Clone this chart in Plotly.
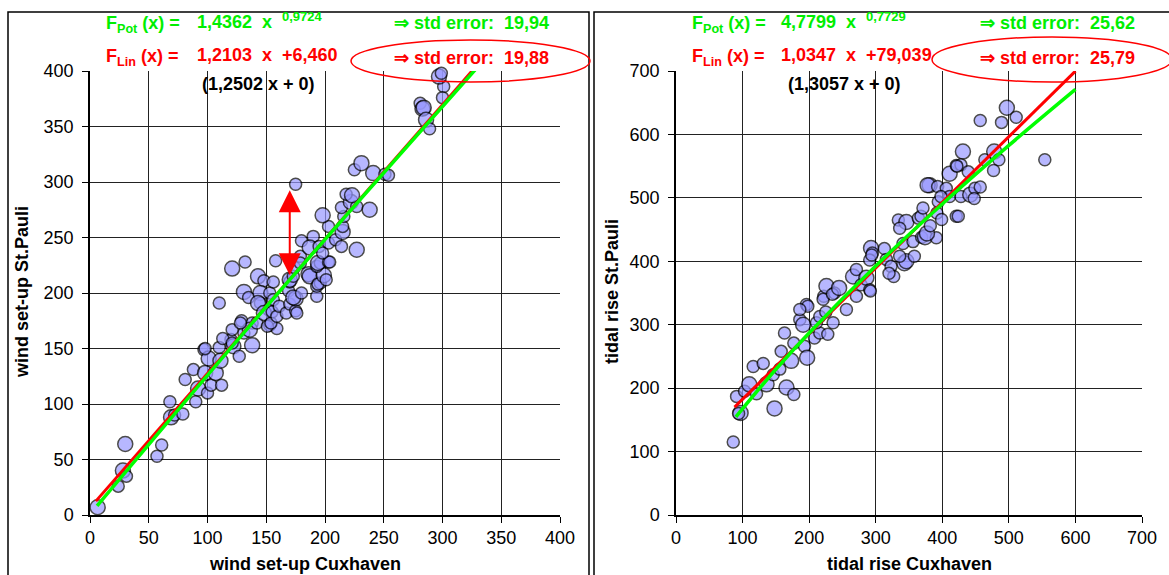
import plotly.graph_objects as go

W, H = 1169, 575

# ---------------- data: left panel (wind set-up) ----------------
wind_points = [
    (6.5, 7, 1), (24, 26, 0), (28, 40, 1), (31, 35, 0), (30, 64, 1), (57, 53, 0), (61, 63, 0),
    (68, 102, 0), (69, 88, 1), (72, 90, 0), (79, 91, 0), (81, 122, 0), (88, 131, 0), (90, 102, 0),
    (92, 114, 1), (97, 149, 0), (98, 128, 1), (100, 110, 0), (101, 141, 1), (103, 117, 0),
    (107, 128, 1), (110, 151, 0), (111, 139, 1), (112, 117, 0), (120, 158, 0), (122, 152, 1),
    (127, 143, 0), (138, 153, 1), (98, 150, 0), (113, 159, 0), (121, 155, 0), (131, 164, 0),
    (121, 167, 0), (129, 175, 0), (138, 173, 0), (136, 167, 1), (142, 173, 0), (128, 173, 0),
    (110, 191, 0), (121, 222, 1), (132, 228, 0), (131, 201, 1), (135, 196, 0), (143, 215, 1),
    (148, 211, 0), (145, 200, 1), (153, 200, 0), (145, 191, 0), (143, 191, 1), (152, 185, 0),
    (148, 182, 1), (153, 171, 0), (159, 168, 0), (151, 170, 0), (154, 173, 0), (155, 183, 0),
    (159, 179, 0), (156, 194, 0), (156, 210, 0), (158, 229, 0), (161, 188, 0), (167, 182, 0),
    (170, 190, 0), (175, 184, 0), (176, 182, 0), (169, 202, 0), (175, 195, 1), (173, 196, 1),
    (180, 200, 0), (170, 210, 0), (170, 212, 1), (173, 215, 0), (174, 223, 0), (179, 233, 0),
    (179, 227, 0), (175, 298, 0), (186, 217, 1), (187, 215, 1), (193, 197, 0), (193, 206, 0),
    (196, 209, 0), (194, 208, 0), (199, 216, 1), (201, 212, 0), (193, 224, 0), (196, 227, 0),
    (194, 227, 1), (203, 228, 0), (204, 228, 0), (180, 247, 0), (190, 251, 0), (187, 241, 1),
    (195, 242, 0), (203, 245, 0), (198, 236, 0), (209, 248, 0), (214, 242, 0), (215, 255, 1),
    (215, 260, 0), (203, 260, 0), (198, 270, 1), (216, 269, 0), (214, 277, 0), (222, 282, 1),
    (227, 278, 0), (238, 275, 1), (227, 239, 1), (218, 289, 0), (223, 288, 1), (225, 311, 0),
    (231, 317, 1), (241, 308, 1), (251, 307, 0), (254, 306, 0), (281, 371, 0), (283, 366, 1),
    (284, 367, 1), (286, 356, 1), (289, 348, 0), (301, 386, 0), (300, 376, 0), (297, 395, 1),
    (299, 398, 0),
]
wind_cux = [p[0] for p in wind_points]
wind_stp = [p[1] for p in wind_points]
wind_big = [p[2] for p in wind_points]

# fitted curves as drawn (left)
wind_lin_x = [5, 330]
wind_lin_y = [12.5, 405.9]
wind_pot_x = [6, 150, 330]
wind_pot_y = [8.2, 187.6, 403.7]

# ---------------- data: right panel (tidal rise) ----------------
tide_points = [
    (86, 115, 0), (91, 187, 0), (97, 161, 1), (94, 160, 0), (103, 195, 0), (110, 206, 1),
    (116, 234, 0), (121, 191, 0), (131, 239, 0), (136, 206, 1), (148, 168, 1), (166, 201, 1),
    (177, 190, 0), (146, 221, 0), (156, 230, 0), (158, 258, 0), (173, 243, 1), (177, 271, 0),
    (163, 287, 0), (193, 266, 0), (197, 248, 1), (186, 308, 0), (191, 300, 1), (196, 332, 0),
    (198, 329, 0), (186, 324, 0), (208, 279, 0), (216, 287, 0), (211, 303, 0), (216, 313, 0),
    (228, 285, 0), (236, 303, 0), (225, 320, 0), (222, 345, 0), (226, 361, 1), (238, 350, 0),
    (221, 340, 0), (235, 348, 0), (245, 358, 1), (256, 324, 0), (266, 376, 1), (271, 387, 0),
    (271, 345, 0), (278, 363, 0), (286, 374, 1), (291, 355, 0), (292, 353, 0), (293, 421, 1),
    (295, 413, 0), (291, 402, 0), (294, 410, 0), (313, 420, 0), (316, 403, 0), (323, 392, 0),
    (327, 376, 0), (320, 381, 0), (343, 397, 1), (346, 400, 1), (358, 408, 0), (336, 408, 0),
    (341, 428, 0), (356, 431, 0), (369, 438, 0), (374, 438, 1), (391, 437, 0), (377, 444, 1),
    (382, 456, 0), (334, 465, 0), (346, 462, 1), (336, 452, 0), (364, 468, 0), (368, 471, 0),
    (371, 484, 0), (392, 476, 0), (399, 466, 0), (394, 494, 0), (381, 520, 1), (378, 520, 1),
    (393, 518, 0), (406, 515, 0), (411, 538, 1), (421, 551, 0), (421, 471, 0), (411, 502, 0),
    (398, 502, 0), (428, 502, 0), (442, 505, 1), (449, 515, 0), (448, 499, 0), (424, 471, 0),
    (431, 573, 1), (428, 552, 0), (422, 550, 0), (439, 541, 0), (457, 517, 0), (464, 560, 0),
    (478, 573, 1), (485, 560, 0), (477, 543, 0), (457, 622, 0), (489, 619, 0), (497, 642, 1),
    (511, 627, 0), (554, 560, 0),
]
tide_cux = [p[0] for p in tide_points]
tide_stp = [p[1] for p in tide_points]
tide_big = [p[2] for p in tide_points]

# fitted curves as drawn (right)
tide_lin_x = [88, 600]
tide_lin_y = [170.1, 699.9]
tide_pot_x = [90, 150, 200, 300, 400, 500, 600]
tide_pot_y = [154.8, 229.8, 287.0, 392.6, 490.4, 582.7, 670.9]

# text content
left_texts = {
    "pot": "F<sub>Pot</sub> (x) =", "pot_coef": "1,4362\u00a0 x", "pot_exp": "0,9724",
    "pot_err": "\u21d2 std error:\u00a0 19,94",
    "lin": "F<sub>Lin</sub> (x) =", "lin_coef": "1,2103\u00a0 x\u00a0 +6,460",
    "lin_err": "\u21d2 std error:\u00a0 19,88",
    "orig": "(1,2502 x + 0)",
    "xt": "wind set-up Cuxhaven", "yt": "wind set-up St.Pauli",
}
right_texts = {
    "pot": "F<sub>Pot</sub> (x) =", "pot_coef": "4,7799\u00a0 x", "pot_exp": "0,7729",
    "pot_err": "\u21d2 std error:\u00a0 25,62",
    "lin": "F<sub>Lin</sub> (x) =", "lin_coef": "1,0347\u00a0 x\u00a0 +79,039",
    "lin_err": "\u21d2 std error:\u00a0 25,79",
    "orig": "(1,3057 x + 0)",
    "xt": "tidal rise Cuxhaven", "yt": "tidal rise St.Pauli",
}

# ---------------- figure ----------------
FONT = "Liberation Sans, Arial, sans-serif"
GREEN = "#00EE00"
RED = "#FF0000"
MARK = "#9999FF"


def px(x):
    return x / W


def py(y):
    return 1 - y / H


fig = go.Figure()


def add_panel(xs, ys, big, lx, ly, gx, gy, xa, ya):
    fig.add_trace(go.Scatter(
        x=xs, y=ys, mode="markers", xaxis=xa, yaxis=ya, cliponaxis=False,
        marker=dict(size=[15 if b else 12 for b in big], color=MARK,
                    line=dict(color="black", width=1.5)),
        showlegend=False, hoverinfo="skip"))
    fig.add_trace(go.Scatter(x=lx, y=ly, mode="lines", xaxis=xa, yaxis=ya,
                             line=dict(color=RED, width=3), showlegend=False))
    fig.add_trace(go.Scatter(x=gx, y=gy, mode="lines", xaxis=xa, yaxis=ya,
                             line=dict(color="#00FF00", width=3.5, shape="spline"),
                             showlegend=False))


add_panel(wind_cux, wind_stp, wind_big, wind_lin_x, wind_lin_y, wind_pot_x, wind_pot_y, "x", "y")
add_panel(tide_cux, tide_stp, tide_big, tide_lin_x, tide_lin_y, tide_pot_x, tide_pot_y, "x2", "y2")

axis_common = dict(
    showgrid=True, gridcolor="#222222", gridwidth=1, zeroline=False,
    showline=True, linecolor="black", linewidth=1.5,
    ticks="outside", ticklen=6, tickcolor="black", automargin=False,
    tickfont=dict(family=FONT, size=18, color="black"),
)

plot_top, plot_bot = 71, 515
fig.update_layout(
    width=W, height=H, margin=dict(l=0, r=0, t=0, b=0),
    paper_bgcolor="white", plot_bgcolor="white",
    xaxis=dict(domain=[px(90), px(560)], range=[0, 400], dtick=50, anchor="y", **axis_common),
    yaxis=dict(domain=[py(plot_bot), py(plot_top)], range=[0, 400], dtick=50, anchor="x",
               ticklabelstandoff=5, **axis_common),
    xaxis2=dict(domain=[px(676), px(1142)], range=[0, 700], dtick=100, anchor="y2", **axis_common),
    yaxis2=dict(domain=[py(plot_bot), py(plot_top)], range=[0, 700], dtick=100, anchor="x2",
                ticklabelstandoff=5, **axis_common),
)

annotations = []


def txt(x, y, s, color, size=18, anchor="left", angle=0):
    annotations.append(dict(
        x=px(x), y=py(y), xref="paper", yref="paper", text="<b>" + s + "</b>",
        showarrow=False, xanchor=anchor, yanchor="middle", textangle=angle,
        font=dict(family=FONT, size=size, color=color)))


def panel_text(t, x0, xc, xe, xerr, xorig, xtc, ytc):
    txt(x0, 24, t["pot"], GREEN)
    txt(xc, 22, t["pot_coef"], GREEN)
    txt(xe, 16, t["pot_exp"], GREEN, size=13)
    txt(xerr, 23, t["pot_err"], GREEN)
    txt(x0, 57, t["lin"], RED)
    txt(xc, 55, t["lin_coef"], RED)
    txt(xerr, 58, t["lin_err"], RED)
    txt(xorig, 84, t["orig"], "black", anchor="left")
    txt(xtc, 564, t["xt"], "black", size=18, anchor="center")
    txt(ytc, 292, t["yt"], "black", size=18, anchor="center", angle=-90)


panel_text(left_texts, 104, 195, 280, 392, 200, 305, 22)
panel_text(right_texts, 690, 779, 864, 978, 786, 909, 612)

# red double arrow (left panel)
annotations.append(dict(
    x=170, y=216, ax=170, ay=294, xref="x", yref="y", axref="x", ayref="y",
    showarrow=True, arrowhead=2, arrowside="end+start", arrowsize=2.2,
    arrowwidth=2, arrowcolor=RED, text=""))

fig.update_layout(annotations=annotations)

shapes = [
    # panel frames
    dict(type="rect", xref="paper", yref="paper", x0=px(8), x1=px(589), y0=-0.1, y1=py(12),
         line=dict(color="black", width=1.5)),
    dict(type="rect", xref="paper", yref="paper", x0=px(594), x1=1.1, y0=-0.1, y1=py(12),
         line=dict(color="black", width=1.5)),
    # ellipses around std error
    dict(type="circle", xref="paper", yref="paper", x0=px(351), x1=px(590), y0=py(82), y1=py(40),
         line=dict(color=RED, width=1.5)),
    dict(type="circle", xref="paper", yref="paper", x0=px(932), x1=px(1172), y0=py(82), y1=py(37),
         line=dict(color=RED, width=1.5)),
]
fig.update_layout(shapes=shapes)

fig.write_html(
    "out.html",
    config={"displayModeBar": False},
    post_script="document.body.style.margin='0';document.body.style.overflow='hidden';",
)
